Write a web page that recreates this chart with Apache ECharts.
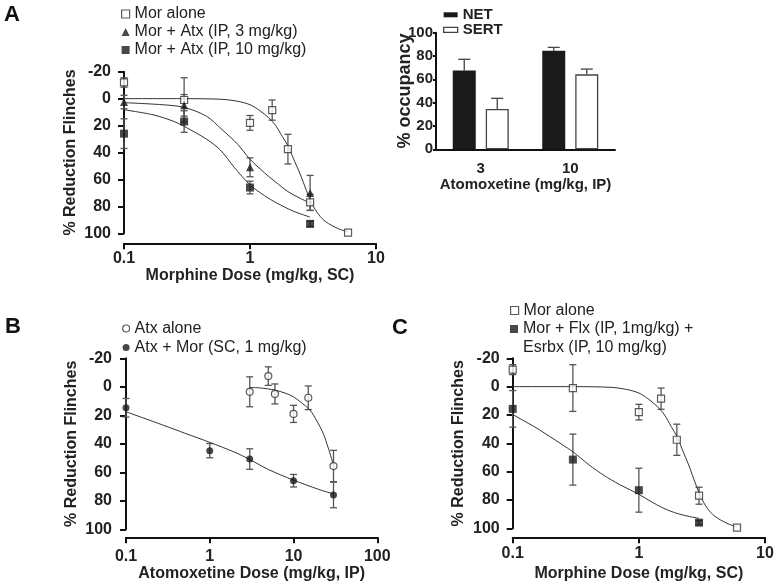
<!DOCTYPE html>
<html><head><meta charset="utf-8">
<script src="https://cdn.jsdelivr.net/npm/echarts@6/dist/echarts.min.js"></script>
<style>html,body{margin:0;padding:0;background:#fff}#c{width:783px;height:587px}</style>
</head><body><div id="c"></div>
<script>
// ---------- Panel A (and C) : morphine dose-response ----------
const morDoses = [0.1, 0.3, 1, 1.5, 2, 3, 6];
const morAloneMean = [-12, 1, 18, 8.5, 37.5, 77, 99.5];
const morAloneSem = [3.5, 16.5, 5.5, 7.5, 11, 6, 0];

const comboDoses = [0.1, 0.3, 1, 3];
const morAtx3Mean = [2.5, 5, 51, 70];
const morAtx3Sem = [5, 8, 7, 13];
const morAtx10Mean = [26, 17, 66, 93];
const morAtx10Sem = [11, 8, 4.7, 2];

const morFitDose = [0.1, 0.3, 0.6, 0.8, 1.0, 1.2, 1.4, 1.6, 1.8, 2.0, 2.2, 2.5, 2.8, 3.1, 3.5, 4.0, 5.0, 6.0];
const morFitVal  = [0, 0, 0.5, 2, 4.5, 9, 14, 20, 28, 35, 44, 56, 68, 78, 86, 91.5, 96.5, 99];
const atx3FitDose = [0.1, 0.2, 0.3, 0.45, 0.6, 0.8, 1.0, 1.3, 1.6, 2.0, 2.5, 3.0];
const atx3FitVal  = [3, 4.5, 6.5, 13, 23, 34, 45, 55, 62, 69, 74, 77.5];
const atx10FitDose = [0.1, 0.17, 0.25, 0.32, 0.45, 0.58, 0.75, 1.0, 1.3, 1.63, 2.2, 3.0];
const atx10FitVal  = [8.3, 12, 17, 22, 30, 38, 51, 64, 72, 77.5, 83.5, 88];

// ---------- Inset : occupancy ----------
const occDoseLabels = ['3', '10'];
const netOcc = [67.5, 84.5];
const netErr = [9.7, 2.9];
const sertOcc = [34.5, 64.3];
const sertErr = [9.2, 4.5];

// ---------- Panel B : atomoxetine dose-response ----------
const atxAloneDoses = [3, 5, 6, 10, 15, 30];
const atxAloneMean = [3.5, -7.5, 5, 19, 7.7, 55.6];
const atxAloneSem = [10.5, 6.5, 7, 6, 8.3, 11];
const atxMorDoses = [0.1, 1, 3, 10, 30];
const atxMorMean = [14.7, 44.8, 50.7, 65.9, 75.9];
const atxMorSem = [6.5, 5, 7.2, 4.4, 9];
const atxAloneFitDose = [3, 4, 6, 8, 10, 12, 15.7, 19, 22.6, 26, 30];
const atxAloneFitVal  = [0.5, 0.8, 2.3, 4.5, 7, 10.5, 16.3, 24, 32.7, 43, 55];
const atxMorFitDose = [0.1, 0.28, 0.5, 1, 2, 3, 5, 10, 20, 30];
const atxMorFitVal  = [17.5, 27, 32.5, 39, 46, 51, 58, 65.5, 72, 75.2];

// ---------- Panel C : fluoxetine + esreboxetine ----------
const flxDoses = [0.1, 0.3, 1, 3];
const flxMean = [15.7, 51.5, 73.1, 96];
const flxSem = [12.9, 18, 15.5, 1.5];
const flxFitDose = [0.1, 0.15, 0.18, 0.22, 0.3, 0.4, 0.53, 0.7, 1.0, 1.3, 1.68, 2.2, 3.0];
const flxFitVal  = [19.7, 28.5, 33, 38, 46, 55, 62.7, 69, 76, 82, 87, 90.5, 93];

// ---------- helpers ----------
const FONT = 'Liberation Sans, Arial, sans-serif';
const INK = '#1a1a1a';
const zip = (a, b) => a.map((v, i) => [v, b[i]]);

function errSeries(xi, yi, xs, mean, sem) {
  return {
    type: 'custom', xAxisIndex: xi, yAxisIndex: yi, silent: true, z: 2,
    data: xs.map((x, i) => [x, mean[i] - sem[i], mean[i] + sem[i]]).filter((d, i) => sem[i] > 0),
    renderItem(params, api) {
      const a = api.coord([api.value(0), api.value(1)]);
      const b = api.coord([api.value(0), api.value(2)]);
      const s = { stroke: '#555', lineWidth: 1.3 };
      const cap = 3.5;
      return { type: 'group', children: [
        { type: 'line', shape: { x1: a[0], y1: a[1], x2: b[0], y2: b[1] }, style: s },
        { type: 'line', shape: { x1: a[0] - cap, y1: a[1], x2: a[0] + cap, y2: a[1] }, style: s },
        { type: 'line', shape: { x1: b[0] - cap, y1: b[1], x2: b[0] + cap, y2: b[1] }, style: s }
      ]};
    }
  };
}
function fitSeries(xi, yi, xs, ys) {
  return { type: 'line', xAxisIndex: xi, yAxisIndex: yi, data: zip(xs, ys), smooth: 0.3,
    showSymbol: false, symbol: 'none', silent: true, z: 3,
    lineStyle: { color: '#333', width: 1 } };
}
function ptSeries(name, xi, yi, xs, ys, symbol, open, size) {
  return { type: 'scatter', name, xAxisIndex: xi, yAxisIndex: yi, data: zip(xs, ys),
    symbol, symbolSize: size, z: 4, silent: true,
    itemStyle: open ? { color: '#fff', borderColor: '#333', borderWidth: 1.2 } : { color: INK } };
}
const lbl = (size, extra) => Object.assign({ fontFamily: FONT, fontWeight: 'bold', fontSize: size, color: '#222' }, extra || {});
function logX(grid, max, offset, margin, gap, name) {
  return { type: 'log', gridIndex: grid, logBase: 10, min: 0.1, max, offset,
    axisLine: { show: true, onZero: false, lineStyle: { color: '#111', width: 2 } },
    axisTick: { show: true, length: 6, lineStyle: { color: '#111', width: 2 } },
    minorTick: { show: false }, splitLine: { show: false },
    axisLabel: lbl(16, { margin, formatter: v => String(+(+v).toPrecision(3)) }),
    name, nameLocation: 'middle', nameGap: gap, nameTextStyle: lbl(16) };
}
function pctY(grid, margin, gap) {
  return { type: 'value', gridIndex: grid, min: -20, max: 100, interval: 20, inverse: true,
    axisLine: { show: true, onZero: false, lineStyle: { color: '#111', width: 2 } },
    axisTick: { show: true, length: 6, lineStyle: { color: '#111', width: 2 } },
    splitLine: { show: false },
    axisLabel: lbl(16, { margin }),
    name: '% Reduction Flinches', nameLocation: 'middle', nameGap: gap, nameRotate: 90, nameTextStyle: lbl(16) };
}

const barW = 23, barGapPx = 10;
function barErrSeries(yi, vals, errs, side) {
  return {
    type: 'custom', xAxisIndex: 1, yAxisIndex: yi, silent: true, z: 1,
    data: vals.map((v, i) => [i, v, v + errs[i]]),
    renderItem(params, api) {
      const a = api.coord([api.value(0), api.value(1)]);
      const b = api.coord([api.value(0), api.value(2)]);
      const x = a[0] + side * (barW + barGapPx) / 2;
      const s = { stroke: '#444', lineWidth: 1.3 };
      return { type: 'group', children: [
        { type: 'line', shape: { x1: x, y1: a[1], x2: x, y2: b[1] }, style: s },
        { type: 'line', shape: { x1: x - 6, y1: b[1], x2: x + 6, y2: b[1] }, style: s }
      ]};
    }
  };
}

const legendText = { fontFamily: FONT, fontSize: 16, color: '#222', lineHeight: 18 };

const option = {
  animation: false,
  backgroundColor: '#fff',
  grid: [
    { left: 124, top: 71.7, width: 252, height: 161.6 },
    { left: 436, top: 32.7, width: 179, height: 116.6 },
    { left: 126, top: 358.3, width: 251.3, height: 171 },
    { left: 512.7, top: 358.3, width: 252.3, height: 170 }
  ],
  xAxis: [
    logX(0, 10, 10, 7, 23, 'Morphine Dose (mg/kg, SC)'),
    { type: 'category', gridIndex: 1, data: occDoseLabels,
      axisLine: { show: true, lineStyle: { color: '#111', width: 2 } },
      axisTick: { show: false },
      axisLabel: lbl(15, { margin: 12 }),
      name: 'Atomoxetine (mg/kg, IP)', nameLocation: 'middle', nameGap: 28, nameTextStyle: lbl(15) },
    logX(2, 100, 8, 11, 28, 'Atomoxetine Dose (mg/kg, IP)'),
    logX(3, 10, 9, 8, 28, 'Morphine Dose (mg/kg, SC)')
  ],
  yAxis: [
    pctY(0, 13, 45),
    { type: 'value', gridIndex: 1, min: 0, max: 100, interval: 20,
      axisLine: { show: true, lineStyle: { color: '#111', width: 2 } },
      axisTick: { show: true, length: 3, lineStyle: { color: '#111', width: 2 } },
      splitLine: { show: false },
      axisLabel: lbl(15, { margin: 3 }),
      name: '% occupancy', nameLocation: 'middle', nameGap: 22, nameRotate: 90, nameMoveOverlap: false,
      nameTextStyle: lbl(18) },
    pctY(2, 14, 46),
    pctY(3, 13, 46)
  ],
  legend: [
    { left: 121, top: 5, orient: 'vertical', itemWidth: 8, itemHeight: 8, itemGap: 0, padding: 0,
      selectedMode: false, textStyle: legendText,
      data: [{ name: 'Mor alone', itemStyle: { borderWidth: 1.2 } }, 'Mor + Atx (IP, 3 mg/kg)', 'Mor + Atx (IP, 10 mg/kg)'] },
    { left: 443, top: 7.3, orient: 'vertical', itemWidth: 14, itemHeight: 5, itemGap: 0, padding: 0, icon: 'rect',
      selectedMode: false, textStyle: { fontFamily: FONT, fontSize: 15, fontWeight: 'bold', color: '#222', lineHeight: 14 },
      data: ['NET', { name: 'SERT', itemStyle: { borderWidth: 1.3 } }] },
    { left: 122, top: 319, orient: 'vertical', itemWidth: 7, itemHeight: 7, itemGap: 0, padding: 0,
      selectedMode: false, textStyle: Object.assign({}, legendText, { lineHeight: 19 }),
      data: [{ name: 'Atx alone', itemStyle: { borderWidth: 1.2 } }, 'Atx + Mor (SC, 1 mg/kg)'] },
    { left: 510, top: 301.5, orient: 'vertical', itemWidth: 8, itemHeight: 8, itemGap: 0, padding: 0,
      selectedMode: false, textStyle: legendText,
      data: [{ name: 'Mor alone', itemStyle: { borderWidth: 1.2 } }] },
    { left: 510, top: 300.5, orient: 'vertical', itemWidth: 8, itemHeight: 8, itemGap: 0, padding: 0,
      selectedMode: false, textStyle: Object.assign({}, legendText, { lineHeight: 19 }),
      formatter: name => '\n' + name,
      data: ['Mor + Flx (IP, 1mg/kg) +\nEsrbx (IP, 10 mg/kg)'] }
  ],
  graphic: [
    { type: 'text', left: 4, top: 4, style: { text: 'A', font: 'bold 22px ' + FONT, fill: '#111' } },
    { type: 'text', left: 5, top: 316, style: { text: 'B', font: 'bold 22px ' + FONT, fill: '#111' } },
    { type: 'text', left: 392, top: 317, style: { text: 'C', font: 'bold 22px ' + FONT, fill: '#111' } }
  ],
  series: [
    // A
    errSeries(0, 0, morDoses, morAloneMean, morAloneSem),
    errSeries(0, 0, comboDoses, morAtx3Mean, morAtx3Sem),
    errSeries(0, 0, comboDoses, morAtx10Mean, morAtx10Sem),
    fitSeries(0, 0, morFitDose, morFitVal),
    fitSeries(0, 0, atx3FitDose, atx3FitVal),
    fitSeries(0, 0, atx10FitDose, atx10FitVal),
    ptSeries('Mor alone', 0, 0, morDoses, morAloneMean, 'rect', true, 7),
    ptSeries('Mor + Atx (IP, 3 mg/kg)', 0, 0, comboDoses, morAtx3Mean, 'triangle', false, 8),
    ptSeries('Mor + Atx (IP, 10 mg/kg)', 0, 0, comboDoses, morAtx10Mean, 'rect', false, 8),
    // inset
    { type: 'bar', name: 'NET', xAxisIndex: 1, yAxisIndex: 1, data: netOcc, barWidth: barW,
      barGap: (barGapPx / barW * 100) + '%', silent: true, z: 2, itemStyle: { color: INK } },
    { type: 'bar', name: 'SERT', xAxisIndex: 1, yAxisIndex: 1, data: sertOcc, barWidth: barW, silent: true, z: 2,
      itemStyle: { color: '#fff', borderColor: '#444', borderWidth: 1.3 } },
    barErrSeries(1, netOcc, netErr, -1),
    barErrSeries(1, sertOcc, sertErr, 1),
    // B
    errSeries(2, 2, atxAloneDoses, atxAloneMean, atxAloneSem),
    errSeries(2, 2, atxMorDoses, atxMorMean, atxMorSem),
    fitSeries(2, 2, atxAloneFitDose, atxAloneFitVal),
    fitSeries(2, 2, atxMorFitDose, atxMorFitVal),
    ptSeries('Atx alone', 2, 2, atxAloneDoses, atxAloneMean, 'circle', true, 7),
    ptSeries('Atx + Mor (SC, 1 mg/kg)', 2, 2, atxMorDoses, atxMorMean, 'circle', false, 7),
    // C
    errSeries(3, 3, morDoses, morAloneMean, morAloneSem),
    errSeries(3, 3, flxDoses, flxMean, flxSem),
    fitSeries(3, 3, morFitDose, morFitVal),
    fitSeries(3, 3, flxFitDose, flxFitVal),
    ptSeries('Mor alone', 3, 3, morDoses, morAloneMean, 'rect', true, 7),
    ptSeries('Mor + Flx (IP, 1mg/kg) +\nEsrbx (IP, 10 mg/kg)', 3, 3, flxDoses, flxMean, 'rect', false, 8)
  ]
};
const chart = echarts.init(document.getElementById('c'), null, { renderer: 'canvas' });
chart.setOption(option);
</script>
</body></html>
